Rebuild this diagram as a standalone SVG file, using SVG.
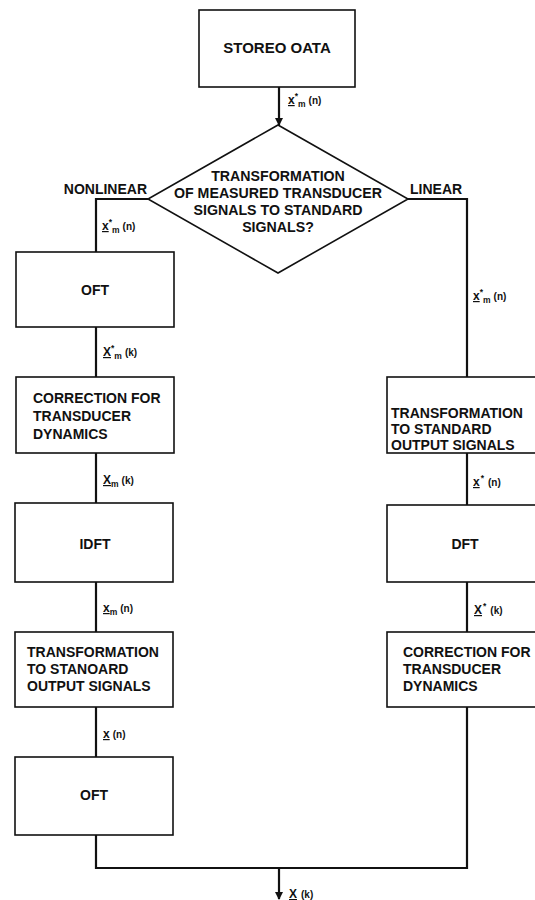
<svg xmlns="http://www.w3.org/2000/svg" width="535" height="900" viewBox="0 0 535 900">
<style>
.box{fill:#fff;stroke:#111;stroke-width:1.6}
.ln{fill:none;stroke:#111;stroke-width:2.2}
.t{font-family:"Liberation Sans",Arial,sans-serif;font-weight:bold;font-size:14px;fill:#111}
.tc{text-anchor:middle}
.d{font-family:"Liberation Sans",Arial,sans-serif;font-weight:bold;font-size:14.2px;fill:#111;text-anchor:middle}
.l{font-family:"Liberation Sans",Arial,sans-serif;font-weight:bold;font-size:12px;fill:#111}
.s{font-size:8.5px}
.p{font-size:10px}
</style>
<defs>
<marker id="ah" markerWidth="8" markerHeight="8" refX="7" refY="4" orient="auto" markerUnits="userSpaceOnUse">
<path d="M0,0 L8,4 L0,8 Z" fill="#111"/>
</marker>
</defs>
<g id="connectors">
<line class="ln" x1="279" y1="87" x2="279" y2="125" marker-end="url(#ah)"/>
<polyline class="ln" points="148,199 96,199 96,252"/>
<polyline class="ln" points="408,199 467,199 467,377"/>
<line class="ln" x1="96" y1="327" x2="96" y2="377"/>
<line class="ln" x1="96" y1="453" x2="96" y2="503"/>
<line class="ln" x1="96" y1="582" x2="96" y2="632"/>
<line class="ln" x1="96" y1="707" x2="96" y2="757"/>
<line class="ln" x1="467" y1="453" x2="467" y2="505"/>
<line class="ln" x1="467" y1="582" x2="467" y2="632"/>
<polyline class="ln" points="96,835 96,868 467,868 467,707"/>
<line class="ln" x1="279" y1="868" x2="279" y2="899" marker-end="url(#ah)"/>
<text class="l" x="288" y="104"><tspan text-decoration="underline">x</tspan><tspan class="s" dy="-5">*</tspan><tspan class="s" dy="8">m</tspan><tspan class="p" dx="3" dy="-3">(n)</tspan></text>
<text class="l" x="102" y="230"><tspan text-decoration="underline">x</tspan><tspan class="s" dy="-5">*</tspan><tspan class="s" dy="8">m</tspan><tspan class="p" dx="3" dy="-3">(n)</tspan></text>
<text class="l" x="473" y="300"><tspan text-decoration="underline">x</tspan><tspan class="s" dy="-5">*</tspan><tspan class="s" dy="8">m</tspan><tspan class="p" dx="3" dy="-3">(n)</tspan></text>
<text class="l" x="103" y="356"><tspan text-decoration="underline">X</tspan><tspan class="s" dy="-5">*</tspan><tspan class="s" dy="8">m</tspan><tspan class="p" dx="3" dy="-3">(k)</tspan></text>
<text class="l" x="103" y="484"><tspan text-decoration="underline">X</tspan><tspan class="s" dy="3">m</tspan><tspan class="p" dx="3" dy="-3">(k)</tspan></text>
<text class="l" x="103" y="612"><tspan text-decoration="underline">x</tspan><tspan class="s" dy="3">m</tspan><tspan class="p" dx="3" dy="-3">(n)</tspan></text>
<text class="l" x="103" y="738"><tspan text-decoration="underline">x</tspan><tspan class="p" dx="3">(n)</tspan></text>
<text class="l" x="473" y="486"><tspan text-decoration="underline">x</tspan><tspan class="s" dx="1" dy="-5">*</tspan><tspan class="p" dx="4" dy="5">(n)</tspan></text>
<text class="l" x="474" y="614"><tspan text-decoration="underline">X</tspan><tspan class="s" dx="1" dy="-5">*</tspan><tspan class="p" dx="4" dy="5">(k)</tspan></text>
<text class="l" x="289" y="898"><tspan text-decoration="underline">X</tspan><tspan class="p" dx="4">(k)</tspan></text>
<text class="t" x="147" y="194" text-anchor="end">NONLINEAR</text>
<text class="t" x="410" y="194">LINEAR</text>
</g>
<g id="stored">
<rect class="box" x="199" y="10" width="156" height="77"/>
<text class="t tc" x="277" y="53" style="font-size:15px">STOREO OATA</text>
</g>
<g id="decision">
<polygon class="box" points="278,125 408,199 278,273 148,199"/>
<text class="d" x="278" y="181">TRANSFORMATION</text>
<text class="d" x="278" y="198">OF MEASURED TRANSDUCER</text>
<text class="d" x="278" y="215">SIGNALS TO STANDARD</text>
<text class="d" x="278" y="232">SIGNALS?</text>
</g>
<g id="l-oft1">
<rect class="box" x="16" y="252" width="158" height="75"/>
<text class="t tc" x="95" y="295">OFT</text>
</g>
<g id="l-corr">
<rect class="box" x="16" y="377" width="158" height="76"/>
<text class="t" x="33" y="403">CORRECTION FOR</text>
<text class="t" x="33" y="421">TRANSDUCER</text>
<text class="t" x="33" y="439">DYNAMICS</text>
</g>
<g id="l-idft">
<rect class="box" x="15" y="503" width="158" height="79"/>
<text class="t tc" x="95" y="549">IDFT</text>
</g>
<g id="l-trans">
<rect class="box" x="15" y="632" width="158" height="75"/>
<text class="t" x="27" y="657">TRANSFORMATION</text>
<text class="t" x="27" y="674">TO STANOARD</text>
<text class="t" x="27" y="691">OUTPUT SIGNALS</text>
</g>
<g id="l-oft2">
<rect class="box" x="15" y="757" width="158" height="78"/>
<text class="t tc" x="94" y="800">OFT</text>
</g>
<g id="r-trans">
<rect class="box" x="387" y="377" width="160" height="76"/>
<text class="t" x="391" y="418">TRANSFORMATION</text>
<text class="t" x="391" y="434">TO STANDARD</text>
<text class="t" x="391" y="450">OUTPUT SIGNALS</text>
</g>
<g id="r-dft">
<rect class="box" x="387" y="505" width="160" height="77"/>
<text class="t tc" x="465" y="549">DFT</text>
</g>
<g id="r-corr">
<rect class="box" x="387" y="632" width="160" height="75"/>
<text class="t" x="403" y="657">CORRECTION FOR</text>
<text class="t" x="403" y="674">TRANSDUCER</text>
<text class="t" x="403" y="691">DYNAMICS</text>
</g>
</svg>
